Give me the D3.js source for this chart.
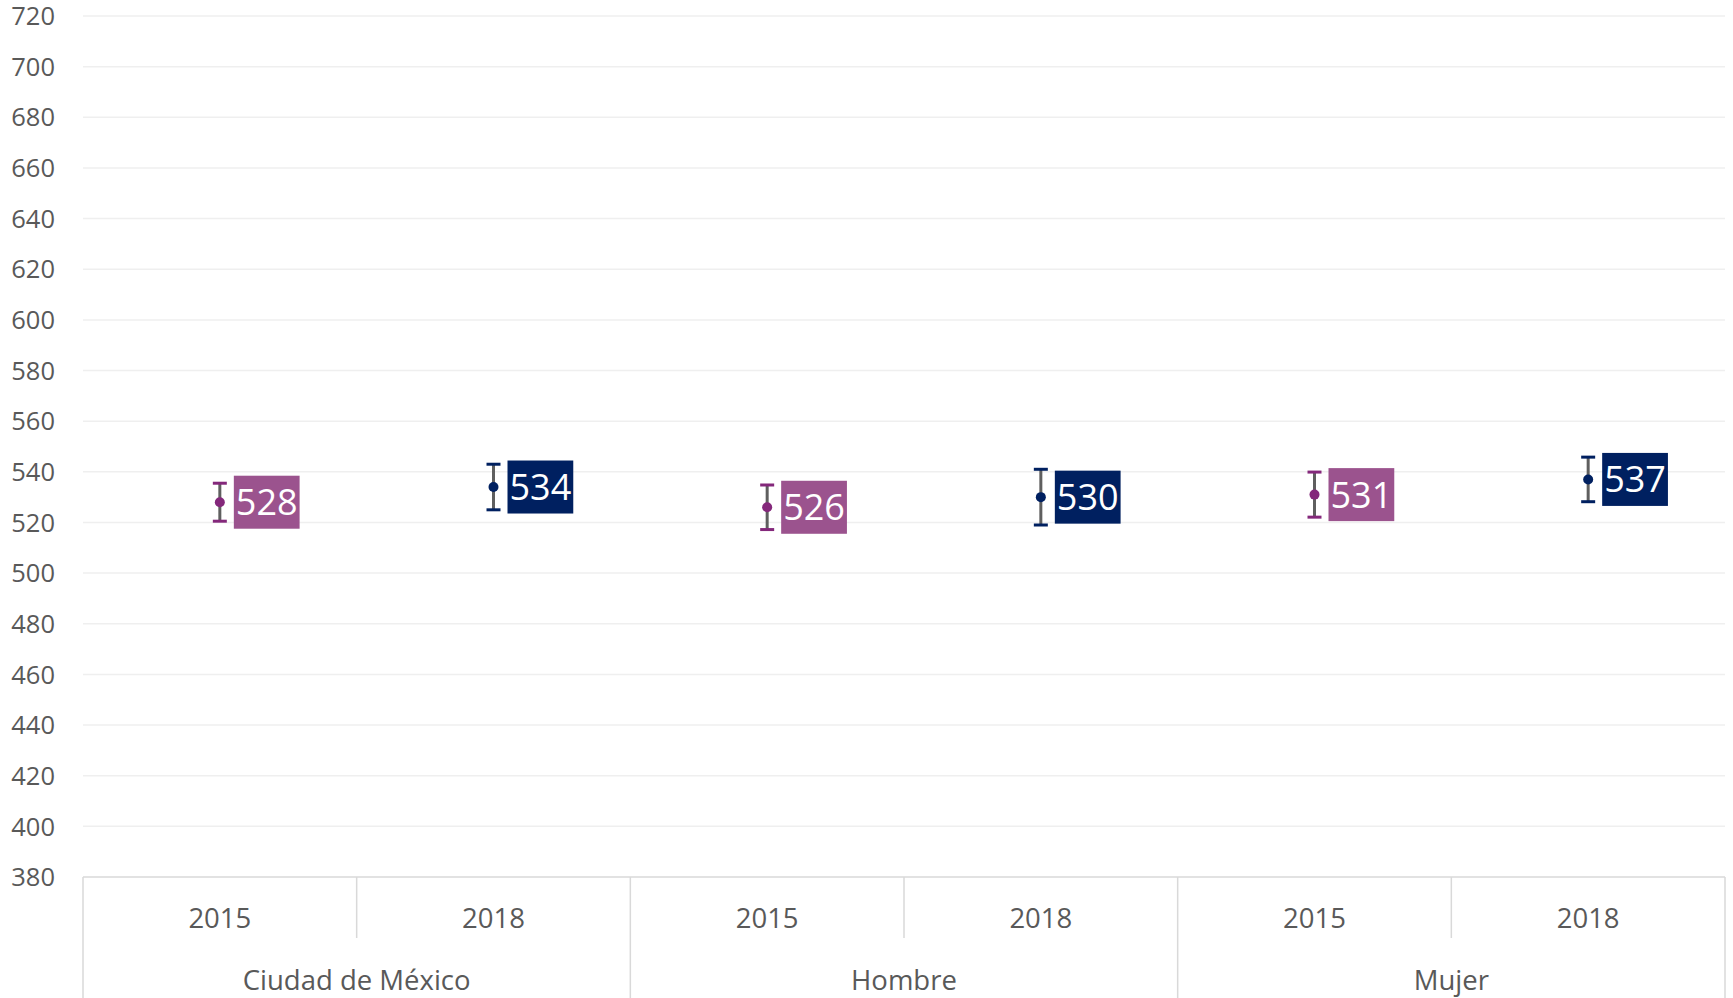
<!DOCTYPE html>
<html lang="es">
<head>
<meta charset="utf-8">
<script src="https://cdn.jsdelivr.net/npm/d3@7"></script>
<style>
  html, body { margin: 0; padding: 0; background: #ffffff; }
  svg { display: block; font-family: "Open Sans", "Noto Sans", sans-serif; }
</style>
</head>
<body>
<svg id="chart" width="1733" height="998"></svg>
<script>
// Categories, years and scores (mean with error margin)
const groups = ["Ciudad de México", "Hombre", "Mujer"];
const years = ["2015", "2018"];
const scores2015 = [528, 526, 531];
const scores2018 = [534, 530, 537];
const errors2015 = [7.5, 8.8, 8.9];
const errors2018 = [9.0, 11.0, 8.8];
const yTicks = [380, 400, 420, 440, 460, 480, 500, 520, 540, 560, 580, 600, 620, 640, 660, 680, 700, 720];

const seriesStyle = {
  "2015": { mark: "#84287b", box: "#9b538e" },
  "2018": { mark: "#002060", box: "#002060" }
};

// One row per (group, year) slot
const rows = [];
groups.forEach((g, i) => {
  rows.push({ group: g, year: years[0], value: scores2015[i], err: errors2015[i] });
  rows.push({ group: g, year: years[1], value: scores2018[i], err: errors2018[i] });
});
rows.forEach(r => r.key = r.group + "|" + r.year);

const svg = d3.select("#chart");
const chartH = 998;
const plotLeft = 83, plotRight = 1725, plotTop = 16, plotBottom = 877;

const y = d3.scaleLinear().domain([380, 720]).range([plotBottom, plotTop]);
const x = d3.scaleBand().domain(rows.map(r => r.key)).range([plotLeft, plotRight]).padding(0);
const xGroup = d3.scaleBand().domain(groups).range([plotLeft, plotRight]).padding(0);

const textColor = "#595959";
const axisColor = "#d9d9d9";

// Horizontal gridlines
svg.append("g")
  .selectAll("line")
  .data(yTicks.filter(t => t > 380))
  .join("line")
  .attr("x1", plotLeft).attr("x2", plotRight)
  .attr("y1", d => y(d)).attr("y2", d => y(d))
  .attr("stroke", "#efefef").attr("stroke-width", 1.5);

// Y axis tick labels
svg.append("g")
  .selectAll("text")
  .data(yTicks)
  .join("text")
  .attr("x", 55)
  .attr("y", d => y(d))
  .attr("dy", "0.36em")
  .attr("text-anchor", "end")
  .attr("fill", textColor)
  .attr("font-size", 25.5)
  .text(d => d);

// Category axis box with dividers
const axisG = svg.append("g").attr("stroke", axisColor).attr("stroke-width", 1.5);
axisG.append("line").attr("x1", plotLeft).attr("x2", plotRight).attr("y1", plotBottom).attr("y2", plotBottom);
const groupEdges = groups.map(g => xGroup(g)).concat([plotRight]);
axisG.selectAll("line.group")
  .data(groupEdges)
  .join("line").attr("class", "group")
  .attr("x1", d => d).attr("x2", d => d)
  .attr("y1", plotBottom).attr("y2", chartH);
axisG.selectAll("line.year")
  .data(groups)
  .join("line").attr("class", "year")
  .attr("x1", g => xGroup(g) + xGroup.bandwidth() / 2)
  .attr("x2", g => xGroup(g) + xGroup.bandwidth() / 2)
  .attr("y1", plotBottom).attr("y2", 938);

// Year labels
svg.append("g")
  .selectAll("text")
  .data(rows)
  .join("text")
  .attr("x", d => x(d.key) + x.bandwidth() / 2)
  .attr("y", 918)
  .attr("dy", "0.36em")
  .attr("text-anchor", "middle")
  .attr("fill", textColor)
  .attr("font-size", 27.5)
  .text(d => d.year);

// Group labels
svg.append("g")
  .selectAll("text")
  .data(groups)
  .join("text")
  .attr("x", g => xGroup(g) + xGroup.bandwidth() / 2)
  .attr("y", 980)
  .attr("dy", "0.36em")
  .attr("text-anchor", "middle")
  .attr("fill", textColor)
  .attr("font-size", 27.5)
  .text(g => g);

// Error bars, points and value labels
const marks = svg.append("g")
  .selectAll("g")
  .data(rows)
  .join("g")
  .attr("transform", d => `translate(${x(d.key) + x.bandwidth() / 2},0)`);

marks.append("line")
  .attr("x1", 0).attr("x2", 0)
  .attr("y1", d => y(d.value + d.err)).attr("y2", d => y(d.value - d.err))
  .attr("stroke", "#5f5f5f").attr("stroke-width", 3);

marks.selectAll("line.cap")
  .data(d => [{ v: d.value + d.err, year: d.year }, { v: d.value - d.err, year: d.year }])
  .join("line").attr("class", "cap")
  .attr("x1", -7).attr("x2", 7)
  .attr("y1", c => y(c.v)).attr("y2", c => y(c.v))
  .attr("stroke", c => seriesStyle[c.year].mark).attr("stroke-width", 3);

marks.append("circle")
  .attr("cx", 0).attr("cy", d => y(d.value))
  .attr("r", 5)
  .attr("fill", d => seriesStyle[d.year].mark);

const labels = marks.append("g");
labels.append("rect");
labels.append("text")
  .attr("fill", "#ffffff")
  .attr("font-size", 36)
  .attr("text-anchor", "middle")
  .attr("dy", "0.36em")
  .attr("y", d => y(d.value))
  .text(d => d.value);

labels.each(function(d) {
  const g = d3.select(this);
  const t = g.select("text");
  const w = t.node().getComputedTextLength() + 4;
  const h = 53;
  const x0 = 14;
  t.attr("x", x0 + w / 2);
  g.select("rect")
    .attr("x", x0).attr("width", w)
    .attr("y", y(d.value) - h / 2).attr("height", h)
    .attr("fill", seriesStyle[d.year].box);
});
</script>
</body>
</html>
